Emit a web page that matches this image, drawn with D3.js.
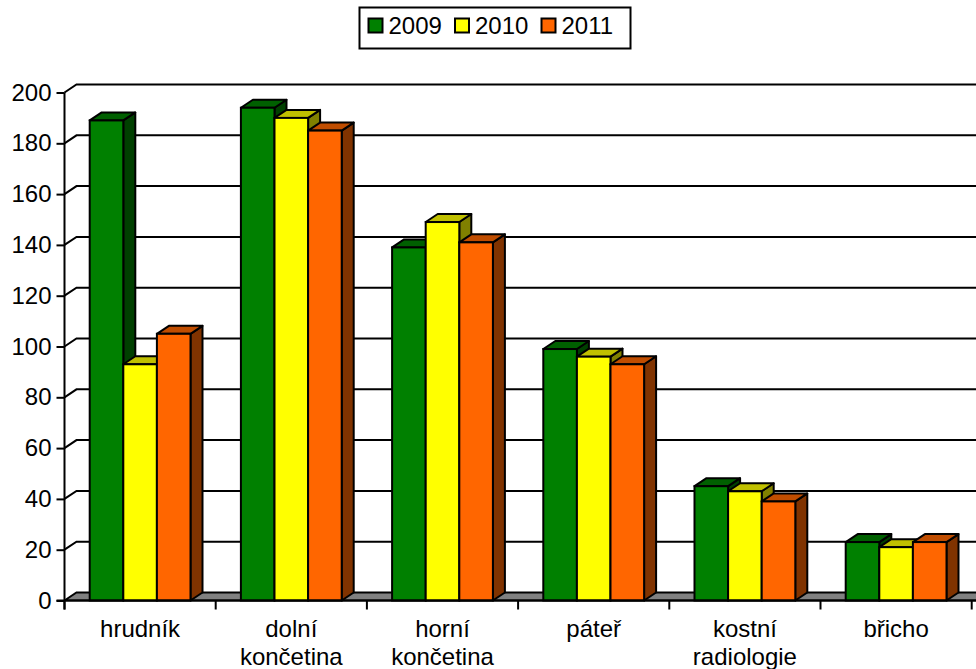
<!DOCTYPE html>
<html lang="cs">
<head>
<meta charset="utf-8">
<script src="https://cdn.jsdelivr.net/npm/d3@7/dist/d3.min.js"></script>
<style>
  html, body { margin: 0; padding: 0; background: #fff; }
  svg { display: block; }
  text { font-family: "Liberation Sans", Arial, sans-serif; fill: #000; }
</style>
</head>
<body>
<svg id="chart" width="976" height="669"></svg>
<script>
// Počty vyšetření podle oblasti a roku
const categories = [["hrudník"], ["dolní", "končetina"], ["horní", "končetina"], ["páteř"], ["kostní", "radiologie"], ["břicho"]];
const years = ["2009", "2010", "2011"];
const values2009 = [189, 194, 139, 99, 45, 23];
const values2010 = [93, 190, 149, 96, 43, 21];
const values2011 = [105, 185, 141, 93, 39, 23];
const seriesValues = [values2009, values2010, values2011];
const yTicks = [0, 20, 40, 60, 80, 100, 120, 140, 160, 180, 200];

// Front, top and side shades of each series
const frontColors = ["#008000", "#ffff00", "#ff6600"];
const topColors = ["#006000", "#c0c000", "#c04d00"];
const sideColors = ["#004000", "#808000", "#803300"];

const svg = d3.select("#chart");
const left = 64.5, base = 600.5, top200 = 92.5, stepW = 151.2;
const dx = 12, dy = 8;          // oblique depth of the 3D projection
const strokeW = 2;
const fontSize = 24;

const catIndex = categories.map((_, i) => i);
const x0 = d3.scaleBand().domain(catIndex).range([left, left + stepW * categories.length]);
const x1 = d3.scaleBand().domain(d3.range(years.length)).range([0, x0.bandwidth()])
  .paddingInner(0).paddingOuter(0.75);
const y = d3.scaleLinear().domain([0, 200]).range([base, top200]);
const rightEdge = 980;

// Floor of the chart
svg.append("path")
  .attr("d", `M${left},${base}L${left + dx},${base - dy}H${rightEdge}V${base}Z`)
  .attr("fill", "#808080").attr("stroke", "#000").attr("stroke-width", strokeW);

// Gridlines running over the back wall
svg.append("g").selectAll("path")
  .data(yTicks.filter(t => t > 0))
  .join("path")
  .attr("d", t => `M${left},${y(t)}L${left + dx},${y(t) - dy}H${rightEdge}`)
  .attr("fill", "none").attr("stroke", "#000").attr("stroke-width", strokeW);

// Axes
const yAxis = d3.axisLeft(y).tickValues(yTicks).tickSize(8).tickPadding(5);
const gy = svg.append("g").attr("transform", `translate(${left},0)`).call(yAxis);
gy.selectAll(".domain").attr("stroke-width", strokeW).attr("d", `M0,${top200}V${base + 9}`);
gy.selectAll(".tick line").attr("stroke-width", strokeW);
gy.selectAll("text").attr("font-size", fontSize).style("font-family", '"Liberation Sans", Arial, sans-serif');

const xTickAt = d3.range(categories.length + 1).map(i => left + i * x0.step());
svg.append("g").selectAll("line")
  .data(xTickAt)
  .join("line")
  .attr("x1", d => d).attr("x2", d => d)
  .attr("y1", base).attr("y2", base + 9)
  .attr("stroke", "#000").attr("stroke-width", strokeW);

// Oblique columns, drawn left to right so later ones overlap earlier sides
const groups = svg.append("g").selectAll("g")
  .data(catIndex)
  .join("g")
  .attr("transform", c => `translate(${x0(c)},0)`);

groups.each(function (c) {
  const g = d3.select(this);
  seriesValues.forEach((vals, s) => {
    const xa = x1(s), w = x1.bandwidth(), yt = y(vals[c]);
    g.append("path")
      .attr("d", `M${xa + w},${yt}L${xa + w + dx},${yt - dy}V${base - dy}L${xa + w},${base}Z`)
      .attr("fill", sideColors[s]).attr("stroke", "#000").attr("stroke-width", strokeW).attr("stroke-linejoin", "round");
    g.append("path")
      .attr("d", `M${xa},${yt}L${xa + dx},${yt - dy}H${xa + w + dx}L${xa + w},${yt}Z`)
      .attr("fill", topColors[s]).attr("stroke", "#000").attr("stroke-width", strokeW).attr("stroke-linejoin", "round");
    g.append("rect")
      .attr("x", xa).attr("y", yt).attr("width", w).attr("height", base - yt)
      .attr("fill", frontColors[s]).attr("stroke", "#000").attr("stroke-width", strokeW);
  });
});

// Front edge of the floor
svg.append("line")
  .attr("x1", left - 8).attr("x2", rightEdge).attr("y1", base).attr("y2", base)
  .attr("stroke", "#000").attr("stroke-width", strokeW);

// Category labels, wrapped on two lines where needed
const labels = svg.append("g").selectAll("text")
  .data(catIndex)
  .join("text")
  .attr("text-anchor", "middle")
  .attr("font-size", fontSize);
labels.each(function (c) {
  d3.select(this).selectAll("tspan")
    .data(categories[c])
    .join("tspan")
    .attr("x", x0(c) + x0.bandwidth() / 2)
    .attr("y", (_, i) => 637 + i * 28)
    .text(d => d);
});

// Legend
const legend = svg.append("g");
legend.append("rect")
  .attr("x", 359.5).attr("y", 7.5).attr("width", 271).attr("height", 41)
  .attr("fill", "#fff").attr("stroke", "#000").attr("stroke-width", strokeW);
const legendX = d3.scalePoint().domain(years).range([368.5, 541.5]);
years.forEach((yr, s) => {
  legend.append("rect")
    .attr("x", legendX(yr)).attr("y", 18.5).attr("width", 14).attr("height", 14)
    .attr("fill", frontColors[s]).attr("stroke", "#000").attr("stroke-width", strokeW);
  legend.append("text")
    .attr("x", legendX(yr) + 20).attr("y", 34)
    .attr("font-size", fontSize).text(yr);
});
</script>
</body>
</html>
